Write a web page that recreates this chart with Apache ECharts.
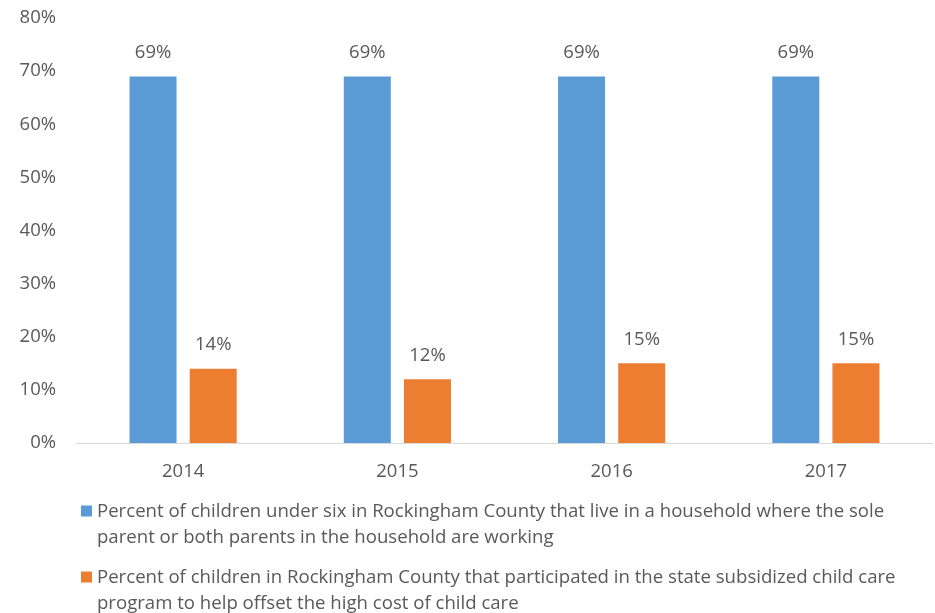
<!DOCTYPE html>
<html>
<head>
<meta charset="utf-8">
<script src="https://cdn.jsdelivr.net/npm/echarts@6/dist/echarts.min.js"></script>
<style>
html,body{margin:0;padding:0;background:#fff;}
#chart{width:935px;height:613px;}
</style>
</head>
<body>
<div id="chart"></div>
<script>
const categories = ['2014', '2015', '2016', '2017'];
const seriesNames = [
  'Percent of children under six in Rockingham County that live in a household where the sole parent or both parents in the household are working',
  'Percent of children in Rockingham County that participated in the state subsidized child care program to help offset the high cost of child care'
];
const legendLines = [
  ['Percent of children under six in Rockingham County that live in a household where the sole', 'parent or both parents in the household are working'],
  ['Percent of children in Rockingham County that participated in the state subsidized child care', 'program to help offset the high cost of child care']
];
const workingParents = [69, 69, 69, 69];
const subsidizedCare = [14, 12, 15, 15];
const yTicks = [0, 10, 20, 30, 40, 50, 60, 70, 80];

const FONT = '"Open Sans", sans-serif';
const TEXT = '#595959';
const FS = 18.5;
const chart = echarts.init(document.getElementById('chart'), null, {renderer: 'canvas'});
const iconPath = 'path://M0,0h11v11h-11z M0,38h0.01v0.01h-0.01z';

chart.setOption({
  animation: false,
  textStyle: {fontFamily: FONT},
  grid: {left: 76, right: 2, top: 18, bottom: 170, containLabel: false},
  xAxis: {
    type: 'category',
    data: categories,
    axisLine: {lineStyle: {color: '#D9D9D9', width: 1}},
    axisTick: {show: false},
    axisLabel: {color: TEXT, fontSize: FS, fontFamily: FONT, margin: 19}
  },
  yAxis: {
    type: 'value',
    min: yTicks[0],
    max: yTicks[yTicks.length - 1],
    interval: 10,
    axisLine: {show: false},
    axisTick: {show: false},
    splitLine: {show: false},
    axisLabel: {color: TEXT, fontSize: FS, fontFamily: FONT, margin: 20, formatter: v => v + '%'}
  },
  legend: {
    orient: 'vertical',
    left: 81,
    top: 498,
    height: 160,
    padding: 0,
    itemGap: 13,
    itemWidth: 11,
    itemHeight: 38,
    icon: iconPath,
    selectedMode: false,
    textStyle: {color: TEXT, fontSize: 18.6, fontFamily: FONT, lineHeight: 26.5},
    formatter: name => legendLines[seriesNames.indexOf(name)].join('\n'),
    data: seriesNames
  },
  series: [
    {
      name: seriesNames[0],
      type: 'bar',
      data: workingParents,
      barWidth: 47,
      barGap: '28%',
      itemStyle: {color: '#5B9BD5'},
      label: {show: true, position: 'top', distance: 14, color: TEXT, fontSize: FS, fontFamily: FONT, formatter: p => p.value + '%'}
    },
    {
      name: seriesNames[1],
      type: 'bar',
      data: subsidizedCare,
      barWidth: 47,
      itemStyle: {color: '#ED7D31'},
      label: {show: true, position: 'top', distance: 14, color: TEXT, fontSize: FS, fontFamily: FONT, formatter: p => p.value + '%'}
    }
  ]
});
</script>
</body>
</html>
